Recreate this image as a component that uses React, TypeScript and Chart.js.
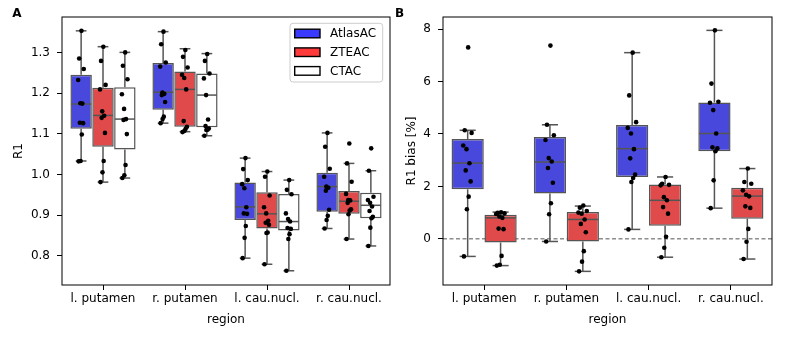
import React, { useEffect, useRef } from 'react';
import { Chart, registerables } from 'chart.js';

Chart.register(...registerables);
Chart.defaults.font.family = "'DejaVu Sans', sans-serif";
Chart.defaults.font.size = 12;
Chart.defaults.color = '#000';

// ---------------- data ----------------
const REGIONS = ['l. putamen', 'r. putamen', 'l. cau.nucl.', 'r. cau.nucl.'];
const METHODS_A = ['AtlasAC', 'ZTEAC', 'CTAC'];
const METHODS_B = ['AtlasAC', 'ZTEAC'];

const TICKS_A = [0.8, 0.9, 1.0, 1.1, 1.2, 1.3];
const TICKS_B = [0, 2, 4, 6, 8];
const ZERO_LINE_B = 0;

// box stats per region: [whiskerLow, q1, median, q3, whiskerHigh]
const A_ATLAS_BOX = [
  [1.033, 1.112, 1.173, 1.245, 1.353],
  [1.126, 1.159, 1.202, 1.274, 1.351],
  [0.794, 0.888, 0.92, 0.98, 1.04],
  [0.867, 0.908, 0.97, 1.004, 1.102],
];
const A_ZTE_BOX = [
  [0.981, 1.068, 1.145, 1.213, 1.314],
  [1.105, 1.117, 1.209, 1.253, 1.309],
  [0.779, 0.867, 0.903, 0.956, 1.007],
  [0.841, 0.903, 0.934, 0.959, 1.027],
];
const A_CT_BOX = [
  [0.991, 1.061, 1.136, 1.214, 1.3],
  [1.095, 1.116, 1.195, 1.248, 1.297],
  [0.763, 0.862, 0.884, 0.952, 0.986],
  [0.824, 0.892, 0.924, 0.955, 1.009],
];

const A_ATLAS_PTS = [
  [1.353, 1.285, 1.259, 1.232, 1.175, 1.174, 1.127, 1.126, 1.098, 1.033, 1.032],
  [1.351, 1.32, 1.275, 1.265, 1.201, 1.198, 1.195, 1.178, 1.142, 1.136, 1.126],
  [1.04, 1.013, 0.986, 0.976, 0.966, 0.919, 0.904, 0.903, 0.873, 0.844, 0.794],
  [1.102, 1.068, 1.014, 0.994, 0.97, 0.967, 0.96, 0.913, 0.898, 0.888, 0.867],
];
const A_ZTE_PTS = [
  [1.314, 1.279, 1.22, 1.209, 1.155, 1.144, 1.139, 1.102, 1.033, 1.005, 0.981],
  [1.306, 1.289, 1.263, 1.245, 1.237, 1.209, 1.131, 1.117, 1.112, 1.107, 1.104],
  [1.007, 0.994, 0.948, 0.919, 0.904, 0.886, 0.881, 0.876, 0.857, 0.856, 0.779],
  [1.076, 1.027, 0.982, 0.952, 0.937, 0.936, 0.93, 0.914, 0.911, 0.902, 0.841],
];
const A_CT_PTS = [
  [1.3, 1.267, 1.234, 1.197, 1.161, 1.136, 1.134, 1.099, 1.023, 0.998, 0.991],
  [1.296, 1.279, 1.248, 1.236, 1.195, 1.135, 1.119, 1.113, 1.11, 1.109, 1.095],
  [0.986, 0.962, 0.951, 0.904, 0.89, 0.884, 0.868, 0.866, 0.853, 0.841, 0.763],
  [1.064, 1.009, 0.945, 0.937, 0.93, 0.921, 0.91, 0.896, 0.892, 0.869, 0.824],
];

const B_ATLAS_BOX = [
  [-0.67, 1.89, 2.89, 3.81, 4.14],
  [-0.1, 1.73, 2.93, 3.88, 4.35],
  [0.36, 2.36, 3.44, 4.34, 7.1],
  [1.17, 3.34, 4.02, 5.2, 7.95],
];
const B_ZTE_BOX = [
  [-1.02, -0.14, 0.8, 0.92, 1.02],
  [-1.24, -0.1, 0.74, 1.02, 1.25],
  [-0.7, 0.5, 1.47, 2.07, 2.36],
  [-0.77, 0.77, 1.63, 1.95, 2.68],
];
const B_ATLAS_PTS = [
  [7.3, 4.14, 4.04, 3.56, 3.42, 2.88, 2.61, 2.19, 1.61, 1.13, -0.67],
  [7.37, 4.35, 3.95, 3.77, 3.08, 2.95, 2.7, 2.14, 1.36, 0.94, -0.1],
  [7.1, 5.47, 4.45, 4.23, 4.02, 3.42, 3.07, 2.45, 2.32, 2.17, 0.36],
  [7.95, 5.92, 5.23, 5.19, 4.91, 4.02, 3.49, 3.45, 3.34, 2.23, 1.17],
];
const B_ZTE_PTS = [
  [1.01, 0.99, 0.97, 0.95, 0.85, 0.8, 0.39, 0.37, -0.65, -0.99, -1.02],
  [1.27, 1.19, 1.06, 1.0, 0.96, 0.74, 0.57, 0.25, -0.47, -0.87, -1.24],
  [2.36, 2.1, 2.06, 2.04, 1.59, 1.47, 1.21, 0.96, 0.08, -0.34, -0.7],
  [2.68, 2.17, 2.1, 1.85, 1.68, 1.62, 1.24, 1.18, 0.38, -0.11, -0.77],
];

// ---------------- style ----------------
const FONT = "'DejaVu Sans', sans-serif";
const EDGE = '#555555';
const BOX_FILLS = ['#4848dc', '#e04a4a', '#ffffff'];
const LEGEND_FILLS = ['#3a3aff', '#ff3a3a', '#ffffff'];
// deterministic strip-plot spread pattern (visual only)
const SPREAD = [0.05, -0.3, 0.4, -0.45, -0.12, 0.18, -0.2, 0.3, 0.1, -0.08, -0.38];

type PanelSpec = {
  methods: string[];
  boxes: number[][][];
  points: number[][][];
  yMin: number;
  yMax: number;
  ticks: number[];
  decimals: number;
  yTitle: string;
  yAxisWidth: number;
  xAxisHeight: number;
  padding: { left: number; right: number; top: number; bottom: number };
  yTitlePad: number;
  legend: boolean;
  zeroLine: number | null;
};

const boxPlugin = {
  id: 'boxWhiskers',
  afterDatasetDraw(chart: any, args: any) {
    const ds = chart.data.datasets[args.index];
    if (!ds.boxStats) return;
    const ys = chart.scales.y;
    const ctx = chart.ctx;
    ctx.save();
    ctx.strokeStyle = EDGE;
    ctx.lineWidth = 1.5;
    ctx.lineCap = 'butt';
    args.meta.data.forEach((bar: any, i: number) => {
      const [lo, q1, med, q3, hi] = ds.boxStats[i];
      const x = bar.x;
      const w = bar.width;
      const line = (x1: number, y1: number, x2: number, y2: number) => {
        ctx.beginPath();
        ctx.moveTo(x1, y1);
        ctx.lineTo(x2, y2);
        ctx.stroke();
      };
      line(x - w / 2 + 0.75, ys.getPixelForValue(med), x + w / 2 - 0.75, ys.getPixelForValue(med));
      line(x, ys.getPixelForValue(q3), x, ys.getPixelForValue(hi));
      line(x, ys.getPixelForValue(q1), x, ys.getPixelForValue(lo));
      line(x - w / 4, ys.getPixelForValue(hi), x + w / 4, ys.getPixelForValue(hi));
      line(x - w / 4, ys.getPixelForValue(lo), x + w / 4, ys.getPixelForValue(lo));
    });
    ctx.restore();
  },
};

const framePlugin = {
  id: 'frame',
  beforeDatasetsDraw(chart: any) {
    const z = chart.options.plugins.frame?.zeroLine;
    if (z === null || z === undefined) return;
    const { ctx, chartArea } = chart;
    const y = chart.scales.y.getPixelForValue(z);
    ctx.save();
    ctx.strokeStyle = '#555';
    ctx.lineWidth = 1;
    ctx.setLineDash([4, 2.5]);
    ctx.beginPath();
    ctx.moveTo(chartArea.left, y);
    ctx.lineTo(chartArea.right, y);
    ctx.stroke();
    ctx.restore();
  },
  afterDraw(chart: any) {
    const { ctx, chartArea } = chart;
    ctx.save();
    ctx.strokeStyle = '#000';
    ctx.lineWidth = 1;
    ctx.strokeRect(chartArea.left, chartArea.top, chartArea.right - chartArea.left, chartArea.bottom - chartArea.top);
    ctx.restore();
  },
};

const legendPlugin = {
  id: 'boxLegend',
  afterDraw(chart: any) {
    if (!chart.options.plugins.boxLegend?.show) return;
    const { ctx, chartArea } = chart;
    const items = chart.data.datasets.filter((d: any) => d.boxStats);
    const fx = chartArea.right - 100;
    const fy = chartArea.top + 6.3;
    const fw = 92.7;
    const fh = 58.7;
    ctx.save();
    ctx.fillStyle = 'rgba(255,255,255,0.8)';
    ctx.strokeStyle = '#cccccc';
    ctx.lineWidth = 1;
    ctx.beginPath();
    (ctx as any).roundRect(fx, fy, fw, fh, 3);
    ctx.fill();
    ctx.stroke();
    items.forEach((d: any, k: number) => {
      const cy = fy + 10.2 + k * 18.7;
      ctx.fillStyle = d.legendFill;
      ctx.fillRect(fx + 4.7, cy - 4.3, 25.3, 8.6);
      ctx.strokeStyle = '#000';
      ctx.lineWidth = 1.4;
      ctx.strokeRect(fx + 4.7, cy - 4.3, 25.3, 8.6);
      ctx.fillStyle = '#000';
      ctx.font = `12px ${FONT}`;
      ctx.textBaseline = 'middle';
      ctx.textAlign = 'left';
      ctx.fillText(d.label, fx + 40, cy + 0.5);
    });
    ctx.restore();
  },
};

function makeConfig(p: PanelSpec): any {
  const n = p.methods.length;
  const slot = 0.8 / n;
  const datasets: any[] = [];
  p.methods.forEach((m, h) => {
    const off = (h - (n - 1) / 2) * slot;
    datasets.push({
      type: 'bar',
      label: m,
      data: p.boxes[h].map((s, r) => ({ x: r + off, y: [s[1], s[3]] })),
      boxStats: p.boxes[h],
      legendFill: LEGEND_FILLS[h],
      backgroundColor: BOX_FILLS[h],
      borderColor: EDGE,
      borderWidth: 1.5,
      borderSkipped: false,
      grouped: false,
      categoryPercentage: 1,
      barPercentage: 0.98,
      order: 2,
    });
  });
  p.methods.forEach((m, h) => {
    const off = (h - (n - 1) / 2) * slot;
    const pts: { x: number; y: number }[] = [];
    p.points[h].forEach((vals, r) =>
      vals.forEach((v, k) => pts.push({ x: r + off + SPREAD[k % SPREAD.length] * slot * 0.3, y: v }))
    );
    datasets.push({
      type: 'scatter',
      label: m + ' points',
      data: pts,
      pointRadius: 2.3,
      pointHoverRadius: 2.3,
      backgroundColor: '#000',
      borderWidth: 0,
      grouped: false,
      order: 0,
    });
  });

  const tickFont = { family: FONT, size: 12 };
  return {
    type: 'bar',
    data: { datasets },
    options: {
      responsive: false,
      animation: false,
      events: [],
      layout: { padding: p.padding },
      plugins: {
        legend: { display: false },
        tooltip: { enabled: false },
        frame: { zeroLine: p.zeroLine },
        boxLegend: { show: p.legend },
      },
      scales: {
        x: {
          type: 'linear',
          min: -0.5,
          max: 3.5,
          offset: false,
          afterBuildTicks: (s: any) => {
            s.ticks = REGIONS.map((_, i) => ({ value: i }));
          },
          grid: { display: true, offset: false, drawOnChartArea: false, drawTicks: true, tickLength: 5, color: '#000', lineWidth: 1 },
          border: { display: false },
          ticks: {
            color: '#000',
            font: tickFont,
            padding: 2,
            maxRotation: 0,
            autoSkip: false,
            callback: (v: any) => REGIONS[Math.round(Number(v))] ?? '',
          },
          title: { display: true, text: 'region', color: '#000', font: tickFont, padding: { top: 0, bottom: 11 } },
          afterFit: (s: any) => {
            s.height = p.xAxisHeight;
          },
        },
        y: {
          type: 'linear',
          min: p.yMin,
          max: p.yMax,
          afterBuildTicks: (s: any) => {
            s.ticks = p.ticks.map((v) => ({ value: v }));
          },
          grid: { display: true, drawOnChartArea: false, drawTicks: true, tickLength: 5, color: '#000', lineWidth: 1 },
          border: { display: false },
          ticks: { color: '#000', font: tickFont, padding: 7, callback: (v: any) => Number(v).toFixed(p.decimals) },
          title: { display: true, text: p.yTitle, color: '#000', font: tickFont, padding: { top: p.yTitlePad, bottom: 0 } },
          afterFit: (s: any) => {
            s.width = p.yAxisWidth;
          },
        },
      },
    },
    plugins: [boxPlugin, framePlugin, legendPlugin],
  };
}

const PANEL_A: PanelSpec = {
  methods: METHODS_A,
  boxes: [A_ATLAS_BOX, A_ZTE_BOX, A_CT_BOX],
  points: [A_ATLAS_PTS, A_ZTE_PTS, A_CT_PTS],
  yMin: 0.728,
  yMax: 1.387,
  ticks: TICKS_A,
  decimals: 1,
  yTitle: 'R1',
  yAxisWidth: 62,
  xAxisHeight: 53,
  padding: { left: 0, right: 5, top: 17, bottom: 0 },
  yTitlePad: 11.5,
  legend: true,
  zeroLine: null,
};

const PANEL_B: PanelSpec = {
  methods: METHODS_B,
  boxes: [B_ATLAS_BOX, B_ZTE_BOX],
  points: [B_ATLAS_PTS, B_ZTE_PTS],
  yMin: -1.76,
  yMax: 8.46,
  ticks: TICKS_B,
  decimals: 0,
  yTitle: 'R1 bias [%]',
  yAxisWidth: 48,
  xAxisHeight: 53,
  padding: { left: 0, right: 17, top: 17, bottom: 0 },
  yTitlePad: 9.5,
  legend: false,
  zeroLine: ZERO_LINE_B,
};

function Panel({ spec, left, width }: { spec: PanelSpec; left: number; width: number }) {
  const ref = useRef<HTMLCanvasElement>(null);
  useEffect(() => {
    const chart = new Chart(ref.current as HTMLCanvasElement, makeConfig(spec));
    return () => chart.destroy();
  }, [spec]);
  return (
    <canvas
      ref={ref}
      width={width}
      height={338}
      style={{ position: 'absolute', left, top: 0, width, height: 338, display: 'block' }}
    />
  );
}

const letterStyle: React.CSSProperties = {
  position: 'absolute',
  top: 6.9,
  fontFamily: FONT,
  fontWeight: 'bold',
  fontSize: 12,
  lineHeight: 1,
  color: '#000',
};

export default function App() {
  return (
    <div style={{ position: 'absolute', left: 0, top: 0, width: 789, height: 338, background: '#fff', overflow: 'hidden' }}>
      <Panel spec={PANEL_A} left={0} width={395} />
      <Panel spec={PANEL_B} left={395} width={394} />
      <div style={{ ...letterStyle, left: 12.3 }}>A</div>
      <div style={{ ...letterStyle, left: 395 }}>B</div>
    </div>
  );
}
